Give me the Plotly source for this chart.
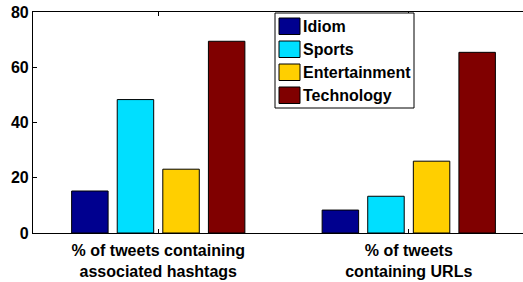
import plotly.graph_objects as go

categories = ["% of tweets containing<br>associated hashtags", "% of tweets<br>containing URLs"]
series_names = ["Idiom", "Sports", "Entertainment", "Technology"]
idiom = [15.2, 8.3]
sports = [48.3, 13.3]
entertainment = [23.1, 26.0]
technology = [69.4, 65.4]
y_ticks = [0, 20, 40, 60, 80]

colors = ["#00008F", "#00DFFF", "#FFCF00", "#800000"]
values = [idiom, sports, entertainment, technology]

W, H = 523, 282
ML, MR, MT, MB = 33, 0, 12, 49
PW, PH = W - ML - MR, H - MT - MB

def px_x(p):
    return (p - ML) / PW

def px_y(p):
    return (H - MB - p) / PH

FAM = "Liberation Sans, Arial, Helvetica, sans-serif"
font = dict(family=FAM, size=16, color="black", weight="bold")

fig = go.Figure()
for name, vals, col in zip(series_names, values, colors):
    fig.add_trace(go.Bar(
        x=categories, y=vals, name=name, showlegend=False,
        marker=dict(color=col, line=dict(color="black", width=1)),
    ))

# legend drawn as box + swatches + labels (paper coordinates)
shapes = [dict(type="rect", xref="paper", yref="paper",
               x0=px_x(275), x1=px_x(414), y0=px_y(108), y1=px_y(13),
               line=dict(color="black", width=1), fillcolor="white", layer="above")]
annotations = []
for i, (name, col) in enumerate(zip(series_names, colors)):
    top = 18 + 23 * i
    shapes.append(dict(type="rect", xref="paper", yref="paper",
                       x0=px_x(279), x1=px_x(300), y0=px_y(top + 16.5), y1=px_y(top),
                       line=dict(color="black", width=1), fillcolor=col, layer="above"))
    annotations.append(dict(xref="paper", yref="paper", x=px_x(301), y=px_y(top + 8.5),
                            xanchor="left", yanchor="middle", showarrow=False,
                            text="<b>" + name + "</b>", font=font))

fig.update_layout(
    width=W, height=H,
    margin=dict(l=ML, r=MR, t=MT, b=MB, autoexpand=False),
    paper_bgcolor="white", plot_bgcolor="white",
    barmode="group", bargap=0.272, bargroupgap=0.2,
    font=font,
    showlegend=False,
    shapes=shapes,
    annotations=annotations,
)
fig.update_xaxes(
    type="category", range=[-0.5, 1.456], automargin=False,
    tickvals=categories, ticktext=["<b>" + c + "</b>" for c in categories],
    showline=True, linecolor="black", linewidth=1.2, mirror="ticks",
    ticks="inside", ticklen=4, tickcolor="black",
    showgrid=False, zeroline=False,
    tickfont=font, ticklabelstandoff=3,
)
fig.update_yaxes(
    range=[0, 80], tickvals=y_ticks, ticktext=["<b>%d</b>" % v for v in y_ticks],
    automargin=False,
    showline=True, linecolor="black", linewidth=1.2, mirror=False,
    ticks="inside", ticklen=4, tickcolor="black",
    showgrid=False, zeroline=False,
    tickfont=font,
)

fig.write_html("out.html", config={"displayModeBar": False},
               post_script="document.body.style.margin='0';document.body.style.overflow='hidden';")
